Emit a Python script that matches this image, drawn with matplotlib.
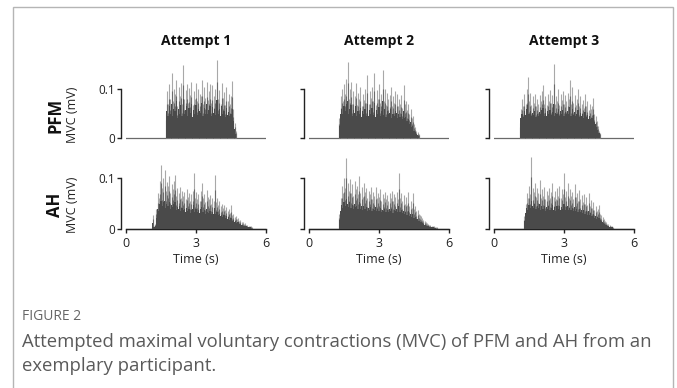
import numpy as np
import matplotlib
matplotlib.use("Agg")
import matplotlib.pyplot as plt
from matplotlib.patches import Rectangle

plt.rcParams['font.family'] = ['Open Sans', 'DejaVu Sans']

# ---------------- data (mV) ----------------
step = 0.05
attempts = ["Attempt 1", "Attempt 2", "Attempt 3"]
muscles = ["PFM", "AH"]
x_ticks = [0, 3, 6]
y_ticks = [0, 0.1]
y_tick_labels = ["0", "0.1"]

pfm1_start = 1.70
pfm1_peak = [0.050, 0.095, 0.070, 0.110, 0.080, 0.132, 0.075, 0.100, 0.090, 0.118,
             0.065, 0.105, 0.085, 0.112, 0.070, 0.149, 0.080, 0.098, 0.110, 0.072,
             0.102, 0.088, 0.115, 0.068, 0.095, 0.080, 0.112, 0.075, 0.100, 0.090,
             0.085, 0.118, 0.070, 0.104, 0.082, 0.115, 0.078, 0.096, 0.110, 0.072,
             0.108, 0.085, 0.100, 0.075, 0.160, 0.080, 0.098, 0.070, 0.112, 0.082,
             0.094, 0.068, 0.105, 0.075, 0.090, 0.070, 0.085, 0.116, 0.060, 0.030, 0.015]
pfm1_core = [0.030, 0.055, 0.045, 0.065, 0.050, 0.070, 0.045, 0.060, 0.055, 0.075,
             0.040, 0.060, 0.050, 0.068, 0.045, 0.080, 0.050, 0.058, 0.065, 0.045,
             0.062, 0.052, 0.070, 0.042, 0.058, 0.050, 0.068, 0.046, 0.060, 0.055,
             0.052, 0.072, 0.044, 0.062, 0.050, 0.070, 0.048, 0.058, 0.066, 0.045,
             0.064, 0.052, 0.060, 0.046, 0.078, 0.050, 0.060, 0.044, 0.066, 0.050,
             0.056, 0.042, 0.062, 0.046, 0.054, 0.044, 0.050, 0.060, 0.035, 0.018, 0.008]

pfm2_start = 1.30
pfm2_peak = [0.040, 0.085, 0.100, 0.075, 0.110, 0.090, 0.120, 0.156, 0.080, 0.100,
             0.115, 0.070, 0.095, 0.085, 0.112, 0.068, 0.092, 0.080, 0.105, 0.065,
             0.090, 0.078, 0.100, 0.072, 0.128, 0.070, 0.095, 0.082, 0.105, 0.075,
             0.132, 0.068, 0.098, 0.080, 0.110, 0.072, 0.090, 0.139, 0.075, 0.100,
             0.068, 0.092, 0.080, 0.088, 0.105, 0.065, 0.085, 0.072, 0.095, 0.090,
             0.066, 0.080, 0.070, 0.088, 0.062, 0.108, 0.070, 0.075, 0.058, 0.070,
             0.050, 0.060, 0.040, 0.045, 0.028, 0.022, 0.015, 0.012, 0.008]
pfm2_core = [0.025, 0.050, 0.060, 0.048, 0.065, 0.055, 0.070, 0.075, 0.050, 0.060,
             0.068, 0.045, 0.058, 0.052, 0.066, 0.044, 0.056, 0.050, 0.062, 0.042,
             0.055, 0.048, 0.060, 0.045, 0.070, 0.044, 0.058, 0.050, 0.062, 0.046,
             0.072, 0.042, 0.058, 0.050, 0.064, 0.045, 0.055, 0.075, 0.046, 0.060,
             0.042, 0.055, 0.048, 0.052, 0.060, 0.040, 0.050, 0.044, 0.056, 0.052,
             0.040, 0.048, 0.042, 0.050, 0.038, 0.055, 0.040, 0.042, 0.034, 0.038,
             0.028, 0.032, 0.022, 0.024, 0.015, 0.012, 0.008, 0.006, 0.004]

pfm3_start = 1.10
pfm3_peak = [0.030, 0.060, 0.080, 0.065, 0.090, 0.070, 0.100, 0.125, 0.075, 0.092,
             0.068, 0.085, 0.072, 0.090, 0.065, 0.080, 0.070, 0.088, 0.075, 0.095,
             0.108, 0.070, 0.085, 0.068, 0.090, 0.075, 0.098, 0.072, 0.088, 0.152,
             0.070, 0.085, 0.075, 0.100, 0.068, 0.090, 0.078, 0.095, 0.070, 0.088,
             0.075, 0.092, 0.080, 0.118, 0.070, 0.105, 0.072, 0.088, 0.068, 0.080,
             0.100, 0.065, 0.085, 0.070, 0.078, 0.062, 0.090, 0.065, 0.075, 0.058,
             0.070, 0.060, 0.066, 0.082, 0.050, 0.045, 0.035, 0.025, 0.015, 0.010]
pfm3_core = [0.020, 0.040, 0.050, 0.042, 0.055, 0.046, 0.060, 0.068, 0.048, 0.056,
             0.044, 0.052, 0.046, 0.055, 0.042, 0.050, 0.045, 0.054, 0.048, 0.058,
             0.062, 0.045, 0.052, 0.044, 0.055, 0.048, 0.058, 0.046, 0.054, 0.070,
             0.045, 0.052, 0.048, 0.060, 0.044, 0.055, 0.050, 0.058, 0.045, 0.054,
             0.048, 0.056, 0.050, 0.064, 0.045, 0.060, 0.046, 0.054, 0.044, 0.050,
             0.058, 0.042, 0.052, 0.045, 0.048, 0.040, 0.054, 0.042, 0.046, 0.038,
             0.044, 0.038, 0.040, 0.046, 0.032, 0.028, 0.022, 0.016, 0.010, 0.006]

ah1_start = 1.10
ah1_peak = [0.004, 0.028, 0.006, 0.010, 0.040, 0.070, 0.060, 0.095, 0.125, 0.080,
            0.100, 0.116, 0.075, 0.092, 0.085, 0.103, 0.070, 0.088, 0.078, 0.095,
            0.106, 0.065, 0.080, 0.070, 0.083, 0.060, 0.075, 0.065, 0.072, 0.058,
            0.078, 0.062, 0.070, 0.055, 0.068, 0.075, 0.110, 0.060, 0.072, 0.058,
            0.068, 0.055, 0.075, 0.090, 0.060, 0.068, 0.052, 0.076, 0.062, 0.058,
            0.066, 0.050, 0.060, 0.055, 0.106, 0.052, 0.060, 0.048, 0.055, 0.045,
            0.050, 0.042, 0.048, 0.038, 0.044, 0.035, 0.040, 0.032, 0.047, 0.028,
            0.030, 0.024, 0.026, 0.020, 0.022, 0.016, 0.018, 0.013, 0.014, 0.010,
            0.011, 0.008, 0.008, 0.006, 0.006, 0.005, 0.004]
ah1_core = [0.002, 0.012, 0.003, 0.005, 0.022, 0.040, 0.035, 0.050, 0.055, 0.045,
            0.052, 0.055, 0.042, 0.050, 0.046, 0.052, 0.040, 0.048, 0.044, 0.050,
            0.052, 0.038, 0.044, 0.040, 0.045, 0.036, 0.042, 0.038, 0.040, 0.034,
            0.042, 0.036, 0.040, 0.032, 0.038, 0.040, 0.048, 0.034, 0.040, 0.033,
            0.038, 0.032, 0.040, 0.044, 0.034, 0.038, 0.030, 0.040, 0.034, 0.032,
            0.036, 0.029, 0.034, 0.030, 0.042, 0.029, 0.033, 0.027, 0.030, 0.025,
            0.028, 0.024, 0.027, 0.021, 0.025, 0.020, 0.023, 0.018, 0.022, 0.016,
            0.018, 0.014, 0.015, 0.012, 0.013, 0.009, 0.010, 0.007, 0.008, 0.006,
            0.006, 0.005, 0.004, 0.004, 0.003, 0.003]

ah2_start = 1.30
ah2_peak = [0.030, 0.060, 0.085, 0.070, 0.100, 0.080, 0.139, 0.090, 0.075, 0.099,
            0.070, 0.088, 0.065, 0.095, 0.078, 0.085, 0.068, 0.103, 0.070, 0.082,
            0.062, 0.090, 0.072, 0.080, 0.060, 0.075, 0.068, 0.082, 0.058, 0.072,
            0.065, 0.083, 0.060, 0.070, 0.062, 0.078, 0.055, 0.068, 0.060, 0.073,
            0.058, 0.066, 0.055, 0.070, 0.060, 0.075, 0.055, 0.068, 0.062, 0.072,
            0.058, 0.109, 0.060, 0.070, 0.055, 0.066, 0.050, 0.062, 0.048, 0.072,
            0.045, 0.055, 0.042, 0.070, 0.040, 0.045, 0.035, 0.038, 0.030, 0.028,
            0.025, 0.022, 0.018, 0.016, 0.013, 0.011, 0.010, 0.008, 0.007, 0.006,
            0.005, 0.005, 0.004, 0.004, 0.003]
ah2_core = [0.018, 0.035, 0.048, 0.042, 0.052, 0.046, 0.058, 0.050, 0.044, 0.052,
            0.042, 0.048, 0.040, 0.050, 0.044, 0.046, 0.040, 0.052, 0.040, 0.045,
            0.038, 0.046, 0.040, 0.044, 0.036, 0.042, 0.038, 0.044, 0.035, 0.040,
            0.037, 0.044, 0.035, 0.040, 0.036, 0.042, 0.033, 0.038, 0.035, 0.040,
            0.034, 0.038, 0.033, 0.039, 0.035, 0.040, 0.032, 0.037, 0.035, 0.039,
            0.033, 0.045, 0.034, 0.038, 0.031, 0.036, 0.029, 0.034, 0.028, 0.036,
            0.026, 0.030, 0.024, 0.030, 0.022, 0.024, 0.019, 0.020, 0.016, 0.015,
            0.013, 0.011, 0.009, 0.008, 0.007, 0.006, 0.005, 0.004, 0.004, 0.003,
            0.003, 0.003, 0.002, 0.002]

ah3_start = 1.30
ah3_peak = [0.025, 0.050, 0.070, 0.060, 0.085, 0.068, 0.142, 0.080, 0.072, 0.090,
            0.062, 0.080, 0.070, 0.096, 0.060, 0.078, 0.065, 0.082, 0.058, 0.075,
            0.066, 0.080, 0.060, 0.072, 0.090, 0.062, 0.075, 0.058, 0.080, 0.065,
            0.085, 0.060, 0.078, 0.068, 0.109, 0.062, 0.075, 0.090, 0.060, 0.078,
            0.065, 0.072, 0.058, 0.088, 0.062, 0.070, 0.055, 0.076, 0.058, 0.066,
            0.052, 0.068, 0.050, 0.062, 0.048, 0.070, 0.045, 0.056, 0.042, 0.052,
            0.038, 0.045, 0.035, 0.040, 0.047, 0.030, 0.028, 0.024, 0.020, 0.016,
            0.014, 0.010, 0.009, 0.007, 0.006, 0.005, 0.004]
ah3_core = [0.015, 0.032, 0.042, 0.038, 0.048, 0.042, 0.055, 0.046, 0.042, 0.050,
            0.040, 0.046, 0.042, 0.050, 0.038, 0.045, 0.040, 0.046, 0.036, 0.044,
            0.040, 0.046, 0.038, 0.042, 0.048, 0.038, 0.044, 0.036, 0.045, 0.040,
            0.046, 0.037, 0.043, 0.040, 0.050, 0.038, 0.043, 0.046, 0.037, 0.042,
            0.038, 0.041, 0.035, 0.044, 0.036, 0.040, 0.033, 0.040, 0.034, 0.038,
            0.031, 0.037, 0.030, 0.035, 0.028, 0.036, 0.027, 0.031, 0.025, 0.029,
            0.022, 0.026, 0.020, 0.023, 0.022, 0.017, 0.015, 0.013, 0.011, 0.009,
            0.008, 0.006, 0.005, 0.004, 0.004, 0.003, 0.003]

signals = {
    ("PFM", 0): (pfm1_start, pfm1_peak, pfm1_core),
    ("PFM", 1): (pfm2_start, pfm2_peak, pfm2_core),
    ("PFM", 2): (pfm3_start, pfm3_peak, pfm3_core),
    ("AH", 0): (ah1_start, ah1_peak, ah1_core),
    ("AH", 1): (ah2_start, ah2_peak, ah2_core),
    ("AH", 2): (ah3_start, ah3_peak, ah3_core),
}

# ---------------- layout ----------------
W, H = 677, 388
fig = plt.figure(figsize=(W / 100, H / 100), dpi=100)

def px_axes(left, top, w, h):
    return fig.add_axes([left / W, 1 - (top + h) / H, w / W, h / H])

col_left = [126, 309, 494]
col_w = 140
ylo, yhi = -0.004, 0.17
rows = [(138, 490), (229, 510)]  # zero pixel, px per mV

ink = "#222222"
for r, m in enumerate(muscles):
    zero_px, scale = rows[r]
    h = (yhi - ylo) * scale
    top = zero_px + (-ylo) * scale - h
    for c in range(3):
        ax = px_axes(col_left[c], top, col_w, h)
        start, peak, core = signals[(m, c)]
        tp = start + step * np.arange(len(peak))
        tc = start + step * np.arange(len(core))
        pk = np.asarray(peak)
        ax.plot([0, 6], [0.0, 0.0], color="#6a6a6a", lw=0.9, zorder=1)
        # tall spikes: light tips, darker lower parts
        ax.vlines(tp, 0, pk, color="#a8a8a8", lw=0.8, zorder=2)
        ax.vlines(tp, 0, pk * 0.72, color="#6a6a6a", lw=0.8, zorder=2.5)
        ax.fill_between(tc, 0, core, step="mid", color="#4a4a4a", lw=0, zorder=3)
        ax.set_xlim(0, 6)
        ax.set_ylim(ylo, yhi)
        for s in ["top", "right"]:
            ax.spines[s].set_visible(False)
        ax.spines["left"].set_position(("outward", 3.6))
        ax.spines["left"].set_bounds(0, 0.1)
        ax.spines["left"].set_linewidth(1.0)
        ax.spines["left"].set_color(ink)
        ax.set_yticks(y_ticks)
        ax.tick_params(axis="y", direction="out", length=3, width=1.0,
                       color=ink, labelsize=8.5, labelcolor=ink, pad=1)
        if c == 0:
            ax.set_yticklabels(y_tick_labels)
        else:
            ax.set_yticklabels([])
        if r == 1:
            ax.spines["bottom"].set_position(("data", 0))
            ax.spines["bottom"].set_bounds(0, 6)
            ax.spines["bottom"].set_linewidth(1.0)
            ax.spines["bottom"].set_color(ink)
            ax.set_xticks(x_ticks)
            ax.set_xticklabels([str(v) for v in x_ticks])
            ax.tick_params(axis="x", direction="out", length=3, width=1.0,
                           color=ink, labelsize=9, labelcolor=ink, pad=3)
            ax.set_xlabel("Time (s)", fontsize=9, color=ink, labelpad=2)
        else:
            ax.spines["bottom"].set_visible(False)
            ax.set_xticks([])
        ax.patch.set_alpha(0)

# column titles
for c, t in enumerate(attempts):
    fig.text((col_left[c] + col_w / 2) / W, 1 - 41 / H, t, ha="center", va="center",
             fontsize=10, fontweight="bold", color="#111111")

# row labels
for r, m in enumerate(muscles):
    yc = [115, 205][r]
    fig.text(55 / W, 1 - yc / H, m, rotation=90, ha="center", va="center",
             fontsize=12, fontweight="bold", color="#111111")
    fig.text(72 / W, 1 - yc / H, "MVC (mV)", rotation=90, ha="center", va="center",
             fontsize=9, color=ink)

# caption
fig.text(22 / W, 1 - 317 / H, "FIGURE 2", ha="left", va="center", fontsize=10, color="#666666")
fig.text(22 / W, 1 - 342 / H,
         "Attempted maximal voluntary contractions (MVC) of PFM and AH from an",
         ha="left", va="center", fontsize=13.3, color="#5a5a5a")
fig.text(22 / W, 1 - 366 / H, "exemplary participant.", ha="left", va="center",
         fontsize=13.3, color="#5a5a5a")

# frame
fig.patches.append(Rectangle((13 / W, -0.2), 660 / W, (H - 7) / H + 0.2,
                             transform=fig.transFigure, fill=False,
                             edgecolor="#b5b5b5", lw=1.0))

fig.savefig("out.png", dpi=100)
